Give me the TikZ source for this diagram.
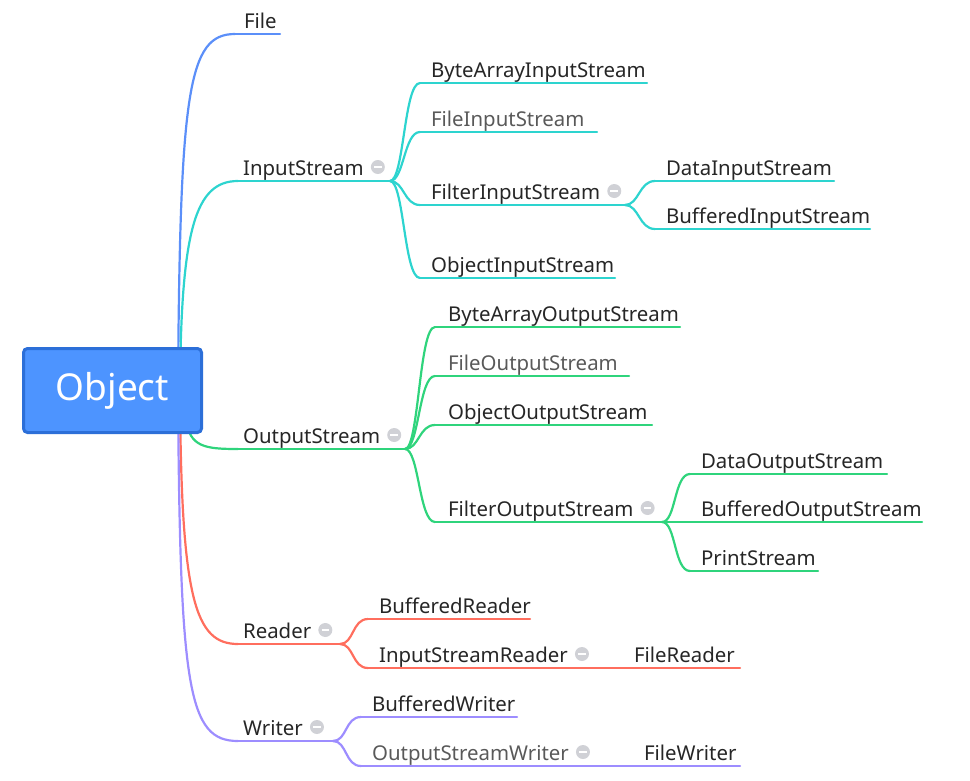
\documentclass[tikz,border=0pt]{standalone}
\usepackage{fontspec}
\setmainfont{Noto Sans}
\definecolor{cfile}{HTML}{5B8FF9}
\definecolor{cin}{HTML}{2DD4CF}
\definecolor{cout}{HTML}{2FD47C}
\definecolor{crd}{HTML}{FF6E5E}
\definecolor{cwr}{HTML}{9D8DFF}
\definecolor{objfill}{HTML}{4D94FF}
\definecolor{objdraw}{HTML}{2C6FD8}
\definecolor{txt}{HTML}{262626}
\definecolor{txtg}{HTML}{595959}
\definecolor{mgray}{HTML}{D0D1D6}
\begin{document}
\begin{tikzpicture}[x=1pt,y=-1pt,line width=2.2pt,line cap=round,
  lbl/.style={anchor=base west,inner sep=0pt,font=\fontsize{20.4}{24}\selectfont,text=txt},
  lblg/.style={lbl,text=txtg},
  minus/.style={circle,fill=mgray,minimum size=14pt,inner sep=0pt,
    path picture={\draw[white,line width=2.2pt,line cap=butt]
      ([xshift=-3.8pt]path picture bounding box.center) -- ([xshift=3.8pt]path picture bounding box.center);}},
  objbox/.style={rectangle,rounded corners=4pt,fill=objfill,draw=objdraw,line width=3pt,
    minimum width=178pt,minimum height=84pt,text=white,font=\fontsize{37}{40}\selectfont,inner sep=0pt}]
\useasboundingbox (0,0) rectangle (970,780);
\def\fanto#1#2#3{\draw[#3] (#1) .. controls +(14,0) and +(-16,0) .. (#2);}
\def\topic#1#2#3#4#5#6#7#8{% name,textx,liney,startx,endx,color,style,text
  \node[#7] (#1) at (#2,#3-6) {#8};
  \coordinate (#1-s) at (#4,#3);
  \coordinate (#1-e) at (#5,#3);
  \draw[#6] (#1-s) -- (#1-e);}
\def\collapse#1{\node[minus] (m-#1) at ([shift={(13,-8)}]#1.base east) {};}
% origins at the central topic
\coordinate (o1) at (178,390);
\coordinate (o2) at (180,390);
\coordinate (o3) at (186,420);
% topics
\topic{file}{243}{34}{235}{280}{cfile}{lbl}{File}
\topic{ins}{242}{181}{238}{390}{cin}{lbl}{InputStream}
\topic{bais}{430}{83}{420}{647}{cin}{lbl}{ByteArrayInputStream}
\topic{fis}{430}{132}{420}{597}{cin}{lblg}{FileInputStream}
\topic{filis}{430}{205}{420}{625}{cin}{lbl}{FilterInputStream}
\topic{dis}{665}{181}{655}{834}{cin}{lbl}{DataInputStream}
\topic{bis}{665}{229}{655}{870}{cin}{lbl}{BufferedInputStream}
\topic{ois}{430}{278}{420}{615}{cin}{lbl}{ObjectInputStream}
\topic{outs}{242}{449}{238}{405}{cout}{lbl}{OutputStream}
\topic{baos}{447}{327}{435}{680}{cout}{lbl}{ByteArrayOutputStream}
\topic{fos}{447}{376}{435}{629}{cout}{lblg}{FileOutputStream}
\topic{oos}{447}{425}{435}{652}{cout}{lbl}{ObjectOutputStream}
\topic{filos}{447}{522}{435}{662}{cout}{lbl}{FilterOutputStream}
\topic{dos}{700}{474}{690}{887}{cout}{lbl}{DataOutputStream}
\topic{bos}{700}{522}{690}{922}{cout}{lbl}{BufferedOutputStream}
\topic{ps}{700}{571}{690}{818}{cout}{lbl}{PrintStream}
\topic{rd}{242}{644}{238}{340}{crd}{lbl}{Reader}
\topic{br}{378}{619}{368}{530}{crd}{lbl}{BufferedReader}
\topic{isr}{378}{668}{368}{597}{crd}{lbl}{InputStreamReader}
\topic{fr}{633}{668}{597}{740}{crd}{lbl}{FileReader}
\topic{wr}{242}{741}{238}{333}{cwr}{lbl}{Writer}
\topic{bw}{371}{717}{361}{517}{cwr}{lbl}{BufferedWriter}
\topic{osw}{371}{766}{361}{605}{cwr}{lblg}{OutputStreamWriter}
\topic{fw}{643}{766}{605}{740}{cwr}{lbl}{FileWriter}
% collapse markers
\collapse{ins}
\collapse{filis}
\collapse{outs}
\collapse{filos}
\collapse{rd}
\collapse{isr}
\collapse{wr}
\collapse{osw}
% main branches
\draw[cfile] (o1) .. controls (180,90) and (188,34) .. (file-s);
\draw[cin] (o2) .. controls (181,230) and (195,181) .. (ins-s);
\draw[cout] (o3) .. controls (190,447) and (205,449) .. (outs-s);
\draw[crd] (o2) .. controls (181,600) and (195,644) .. (rd-s);
\draw[cwr] (o1) .. controls (180,690) and (188,741) .. (wr-s);
% sub branches
\fanto{ins-e}{bais-s}{cin}
\fanto{ins-e}{fis-s}{cin}
\fanto{ins-e}{filis-s}{cin}
\fanto{ins-e}{ois-s}{cin}
\fanto{filis-e}{dis-s}{cin}
\fanto{filis-e}{bis-s}{cin}
\fanto{outs-e}{baos-s}{cout}
\fanto{outs-e}{fos-s}{cout}
\fanto{outs-e}{oos-s}{cout}
\fanto{outs-e}{filos-s}{cout}
\fanto{filos-e}{dos-s}{cout}
\fanto{filos-e}{bos-s}{cout}
\fanto{filos-e}{ps-s}{cout}
\fanto{rd-e}{br-s}{crd}
\fanto{rd-e}{isr-s}{crd}
\fanto{wr-e}{bw-s}{cwr}
\fanto{wr-e}{osw-s}{cwr}
% central topic
\node[objbox] (obj) at (112.5,390.5) {Object};
\end{tikzpicture}
\end{document}
